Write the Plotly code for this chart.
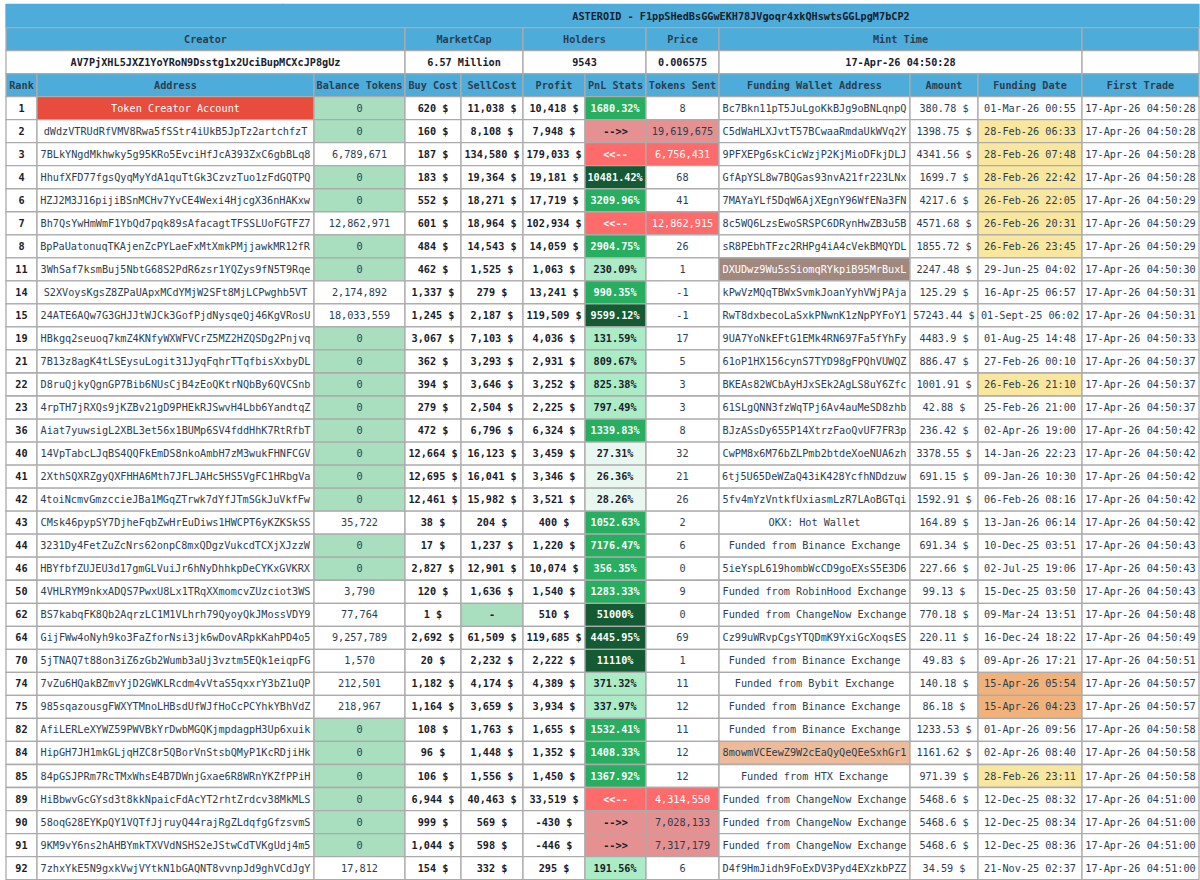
# 토큰 홀더 표: 병합 셀과 낮은 행 높이 때문에 go.Table 대신 가로 막대 한 트레이스로 칸을 그린다
import plotly.graph_objects as go

title_text = "ASTEROID - F1ppSHedBsGGwEKH78JVgoqr4xkQHswtsGGLpgM7bCP2"
info_labels = ["Creator", "MarketCap", "Holders", "Price", "Mint Time", ""]
info_values = ["AV7PjXHL5JXZ1YoYRoN9Dsstg1x2UciBupMCXcJP8gUz", "6.57 Million", "9543", "0.006575", "17-Apr-26 04:50:28", ""]
columns = ["Rank", "Address", "Balance Tokens", "Buy Cost", "SellCost", "Profit", "PnL Stats", "Tokens Sent",
           "Funding Wallet Address", "Amount", "Funding Date", "First Trade"]

ranks = [1, 2, 3, 4, 6, 7, 8, 11, 14, 15, 19, 21, 22, 23, 36, 40, 41, 42, 43, 44, 46, 50, 62, 64, 70, 74, 75, 82, 84, 85, 89, 90, 91, 92]
addresses = [
    "Token Creator Account", "dWdzVTRUdRfVMV8Rwa5fSStr4iUkB5JpTz2artchfzT", "7BLkYNgdMkhwky5g95KRo5EvciHfJcA393ZxC6gbBLq8",
    "HhufXFD77fgsQyqMyYdA1quTtGk3CzvzTuo1zFdGQTPQ", "HZJ2M3J16pijiBSnMCHv7YvCE4Wexi4HjcgX36nHAKxw", "Bh7QsYwHmWmF1YbQd7pqk89sAfacagtTFSSLUoFGTFZ7",
    "BpPaUatonuqTKAjenZcPYLaeFxMtXmkPMjjawkMR12fR", "3WhSaf7ksmBuj5NbtG68S2PdR6zsr1YQZys9fN5T9Rqe", "S2XVoysKgsZ8ZPaUApxMCdYMjW2SFt8MjLCPwghb5VT",
    "24ATE6AQw7G3GHJJtWJCk3GofPjdNysqeQj46KgVRosU", "HBkgq2seuoq7kmZ4KNfyWXWFVCrZ5MZ2HZQSDg2Pnjvq", "7B13z8agK4tLSEysuLogit31JyqFqhrTTqfbisXxbyDL",
    "D8ruQjkyQgnGP7Bib6NUsCjB4zEoQKtrNQbBy6QVCSnb", "4rpTH7jRXQs9jKZBv21gD9PHEkRJSwvH4Lbb6YandtqZ", "Aiat7yuwsigL2XBL3et56x1BUMp6SV4fddHhK7RtRfbT",
    "14VpTabcLJqBS4QQFkEmDS8nkoAmbH7zM3wukFHNFCGV", "2XthSQXRZgyQXFHHA6Mth7JFLJAHc5HS5VgFC1HRbgVa", "4toiNcmvGmzccieJBa1MGqZTrwk7dYfJTmSGkJuVkfFw",
    "CMsk46pypSY7DjheFqbZwHrEuDiws1HWCPT6yKZKSkSS", "3231Dy4FetZuZcNrs62onpC8mxQDgzVukcdTCXjXJzzW", "HBYfbfZUJEU3d17gmGLVuiJr6hNyDhhkpDeCYKxGVKRX",
    "4VHLRYM9nkxADQS7PwxU8Lx1TRqXXmomcvZUzciot3WS", "BS7kabqFK8Qb2AqrzLC1M1VLhrh79QyoyQkJMossVDY9", "GijFWw4oNyh9ko3FaZforNsi3jk6wDovARpkKahPD4o5",
    "5jTNAQ7t88on3iZ6zGb2Wumb3aUj3vztm5EQk1eiqpFG", "7vZu6HQakBZmvYjD2GWKLRcdm4vVtaS5qxxrY3bZ1uQP", "985sqazousgFWXYTMnoLHBsdUfWJfHoCcPCYhkYBhVdZ",
    "AfiLERLeXYWZ59PWVBkYrDwbMGQKjmpdagpH3Up6xuik", "HipGH7JH1mkGLjqHZC8r5QBorVnStsbQMyP1KcRDjiHk", "84pGSJPRm7RcTMxWhsE4B7DWnjGxae6R8WRnYKZfPPiH",
    "HiBbwvGcGYsd3t8kkNpaicFdAcYT2rhtZrdcv38MkMLS", "58oqG28EYKpQY1VQTfJjruyQ44rajRgZLdqfgGfzsvmS", "9KM9vY6ns2hAHBYmkTXVVdNSHS2eJStwCdTVKgUdj4m5",
    "7zhxYkE5N9gxkVwjVYtkN1bGAQNT8vvnpJd9ghVCdJgY",
]
balances = [0, 0, 6789671, 0, 0, 12862971, 0, 0, 2174892, 18033559, 0, 0, 0, 0, 0, 0, 0, 0, 35722, 0, 0, 3790, 77764, 9257789, 1570, 212501, 218967, 0, 0, 0, 0, 0, 0, 17812]
buy_costs = [620, 160, 187, 183, 552, 601, 484, 462, 1337, 1245, 3067, 362, 394, 279, 472, 12664, 12695, 12461, 38, 17, 2827, 120, 1, 2692, 20, 1182, 1164, 108, 96, 106, 6944, 999, 1044, 154]
sell_costs = [11038, 8108, 134580, 19364, 18271, 18964, 14543, 1525, 279, 2187, 7103, 3293, 3646, 2504, 6796, 16123, 16041, 15982, 204, 1237, 12901, 1636, None, 61509, 2232, 4174, 3659, 1763, 1448, 1556, 40463, 569, 598, 332]
profits = [10418, 7948, 179033, 19181, 17719, 102934, 14059, 1063, 13241, 119509, 4036, 2931, 3252, 2225, 6324, 3459, 3346, 3521, 400, 1220, 10074, 1540, 510, 119685, 2222, 4389, 3934, 1655, 1352, 1450, 33519, -430, -446, 295]
pnl_stats = ["1680.32%", "-->>", "<<--", "10481.42%", "3209.96%", "<<--", "2904.75%", "230.09%", "990.35%", "9599.12%", "131.59%", "809.67%", "825.38%", "797.49%", "1339.83%",
             "27.31%", "26.36%", "28.26%", "1052.63%", "7176.47%", "356.35%", "1283.33%", "51000%", "4445.95%", "11110%", "371.32%", "337.97%", "1532.41%", "1408.33%", "1367.92%",
             "<<--", "-->>", "-->>", "191.56%"]
tokens_sent = [8, 19619675, 6756431, 68, 41, 12862915, 26, 1, -1, -1, 17, 5, 3, 3, 8, 32, 21, 26, 2, 6, 0, 9, 0, 69, 1, 11, 12, 11, 12, 12, 4314550, 7028133, 7317179, 6]
wallets = [
    "Bc7Bkn11pT5JuLgoKkBJg9oBNLqnpQ", "C5dWaHLXJvtT57BCwaaRmdaUkWVq2Y", "9PFXEPg6skCicWzjP2KjMioDFkjDLJ", "GfApYSL8w7BQGas93nvA21fr223LNx",
    "7MAYaYLf5DqW6AjXEgnY96WfENa3FN", "8c5WQ6LzsEwoSRSPC6DRynHwZB3u5B", "sR8PEbhTFzc2RHPg4iA4cVekBMQYDL", "DXUDwz9Wu5sSiomqRYkpiB95MrBuxL",
    "kPwVzMQqTBWxSvmkJoanYyhVWjPAja", "RwT8dxbecoLaSxkPNwnK1zNpPYFoY1", "9UA7YoNkEFtG1EMk4RN697Fa5fYhFy", "61oP1HX156cynS7TYD98gFPQhVUWQZ",
    "BKEAs82WCbAyHJxSEk2AgLS8uY6Zfc", "61SLgQNN3fzWqTPj6Av4auMeSD8zhb", "BJzASsDy655P14XtrzFaoQvUF7FR3p", "CwPM8x6M76bZLPmb2btdeXoeNUA6zh",
    "6tj5U65DeWZaQ43iK428YcfhNDdzuw", "5fv4mYzVntkfUxiasmLzR7LAoBGTqi", "OKX: Hot Wallet", "Funded from Binance Exchange",
    "5ieYspL619hombWcCD9goEXsS5E3D6", "Funded from RobinHood Exchange", "Funded from ChangeNow Exchange", "Cz99uWRvpCgsYTQDmK9YxiGcXoqsES",
    "Funded from Binance Exchange", "Funded from Bybit Exchange", "Funded from Binance Exchange", "Funded from Binance Exchange",
    "8mowmVCEewZ9W2cEaQyQeQEeSxhGr1", "Funded from HTX Exchange", "Funded from ChangeNow Exchange", "Funded from ChangeNow Exchange",
    "Funded from ChangeNow Exchange", "D4f9HmJidh9FoExDV3Pyd4EXzkbPZZ",
]
amounts = [380.78, 1398.75, 4341.56, 1699.7, 4217.6, 4571.68, 1855.72, 2247.48, 125.29, 57243.44, 4483.9, 886.47, 1001.91, 42.88, 236.42, 3378.55, 691.15, 1592.91,
           164.89, 691.34, 227.66, 99.13, 770.18, 220.11, 49.83, 140.18, 86.18, 1233.53, 1161.62, 971.39, 5468.6, 5468.6, 5468.6, 34.59]
funding_dates = [
    "01-Mar-26 00:55", "28-Feb-26 06:33", "28-Feb-26 07:48", "28-Feb-26 22:42", "26-Feb-26 22:05", "26-Feb-26 20:31", "26-Feb-26 23:45", "29-Jun-25 04:02",
    "16-Apr-25 06:57", "01-Sept-25 06:02", "01-Aug-25 14:48", "27-Feb-26 00:10", "26-Feb-26 21:10", "25-Feb-26 21:00", "02-Apr-26 19:00", "14-Jan-26 22:23",
    "09-Jan-26 10:30", "06-Feb-26 08:16", "13-Jan-26 06:14", "10-Dec-25 03:51", "02-Jul-25 19:06", "15-Dec-25 03:50", "09-Mar-24 13:51", "16-Dec-24 18:22",
    "09-Apr-26 17:21", "15-Apr-26 05:54", "15-Apr-26 04:23", "01-Apr-26 09:56", "02-Apr-26 08:40", "28-Feb-26 23:11", "12-Dec-25 08:32", "12-Dec-25 08:34",
    "12-Dec-25 08:36", "21-Nov-25 02:37",
]
first_trades = [
    "04:50:28", "04:50:28", "04:50:28", "04:50:28", "04:50:29", "04:50:29", "04:50:29", "04:50:30", "04:50:31", "04:50:31", "04:50:33", "04:50:37",
    "04:50:37", "04:50:37", "04:50:42", "04:50:42", "04:50:42", "04:50:42", "04:50:42", "04:50:43", "04:50:43", "04:50:43", "04:50:48", "04:50:49",
    "04:50:51", "04:50:57", "04:50:57", "04:50:58", "04:50:58", "04:50:58", "04:51:00", "04:51:00", "04:51:00", "04:51:00",
]

# 색상
HEAD = "#4eacda"
LINE = "#ababab"
WHITE = "#ffffff"
TEXT = "#2c3e50"
BOLD = "#17202a"
RED = "#e74c3c"
ZERO = "#a9dfbf"
IN_RED = "#ff6b6b"
OUT_RED = "#e59191"
FONT = "DejaVu Sans Mono, monospace"
SIZE = 10.2
ROW_H = 23.03


def bold(s):
    return "<b>" + str(s) + "</b>"


def pnl_color(label, profit):
    if label == "<<--":
        return IN_RED
    if label == "-->>":
        return OUT_RED
    pct = float(label[:-1])
    if pct >= 9000 or profit >= 100000:
        return "#145a32"
    if pct >= 1000 or profit >= 10000:
        return "#27ae60"
    if pct >= 100:
        return "#abebc6"
    return "#e8f8f0"


def date_color(d):
    if d[:9] in ("26-Feb-26", "28-Feb-26"):
        return "#f9e79f"
    if d[:9] == "15-Apr-26":
        return "#f0b27a"
    return WHITE


def wallet_color(w):
    return {"DXUDwz9Wu5sSiomqRYkpiB95MrBuxL": "#a1887f", "8mowmVCEewZ9W2cEaQyQeQEeSxhGr1": "#edbb99"}.get(w, WHITE)


pnl_fill = [pnl_color(p, g) for p, g in zip(pnl_stats, profits)]
n = len(ranks)

values = [
    [bold(r) for r in ranks],
    addresses,
    [f"{b:,}" for b in balances],
    [bold(f"{v:,} $") for v in buy_costs],
    [bold("-" if v is None else f"{v:,} $") for v in sell_costs],
    [bold(f"{v:,} $") for v in profits],
    [bold(p) for p in pnl_stats],
    [f"{s:,}" for s in tokens_sent],
    wallets,
    [f"{a} $" for a in amounts],
    funding_dates,
    ["17-Apr-26 " + t for t in first_trades],
]
fills = [
    [WHITE] * n,
    [RED if a == "Token Creator Account" else WHITE for a in addresses],
    [ZERO if b == 0 else WHITE for b in balances],
    [WHITE] * n,
    [ZERO if v is None else WHITE for v in sell_costs],
    [WHITE] * n,
    pnl_fill,
    [f if p in ("<<--", "-->>") else WHITE for f, p in zip(pnl_fill, pnl_stats)],
    [wallet_color(w) for w in wallets],
    [WHITE] * n,
    [date_color(d) for d in funding_dates],
    [WHITE] * n,
]
font_colors = [
    [BOLD] * n,
    [WHITE if a == "Token Creator Account" else TEXT for a in addresses],
    [TEXT] * n,
    [BOLD] * n,
    [BOLD] * n,
    [BOLD] * n,
    [WHITE if f in ("#145a32", "#27ae60", IN_RED) else BOLD for f in pnl_fill],
    [WHITE if p == "<<--" else TEXT for p in pnl_stats],
    [WHITE if w.startswith("DXUD") else TEXT for w in wallets],
    [TEXT] * n,
    [TEXT] * n,
    [TEXT] * n,
]

# 칸 너비 (px)
main_widths = [31, 277, 91, 56, 62, 62, 61, 73, 191, 68, 104, 117]
info_widths = [399, 118, 123, 73, 363, 117]
title_widths = [277, 916]  # 제목은 표 가운데가 아니라 오른쪽으로 치우쳐 있음

# 막대 하나가 칸 하나
cell_y, cell_w, cell_base, cell_text, cell_fill, cell_color, cell_line = [], [], [], [], [], [], []


def add_row(row, widths, texts, fill_list, color_list, line=LINE):
    left = 0
    for w, t, f, c in zip(widths, texts, fill_list, color_list):
        cell_y.append(row)
        cell_w.append(w)
        cell_base.append(left)
        cell_text.append(t)
        cell_fill.append(f)
        cell_color.append(c)
        cell_line.append(line)
        left += w


add_row(0, title_widths, ["", bold(title_text)], [HEAD] * 2, [BOLD] * 2, line=HEAD)
add_row(1, info_widths, [bold(t) for t in info_labels], [HEAD] * 6, [TEXT] * 6)
add_row(2, info_widths, [bold(t) for t in info_values], [WHITE] * 6, [BOLD] * 6)
add_row(3, main_widths, [bold(c) for c in columns], [HEAD] * 12, [TEXT] * 12)
for i in range(n):
    add_row(4 + i, main_widths, [v[i] for v in values], [f[i] for f in fills], [c[i] for c in font_colors])

fig = go.Figure(go.Bar(
    orientation="h",
    y=cell_y,
    x=cell_w,
    base=cell_base,
    width=1,
    text=cell_text,
    textposition="inside",
    insidetextanchor="middle",
    textangle=0,
    constraintext="none",
    textfont=dict(family=FONT, size=SIZE, color=cell_color),
    marker=dict(color=cell_fill, line=dict(color=cell_line, width=1.3)),
    hoverinfo="skip",
))

top = -0.5 - 4.5 / ROW_H
fig.update_layout(
    width=1200, height=880, margin=dict(l=0, r=0, t=0, b=0),
    paper_bgcolor=WHITE, plot_bgcolor=WHITE, barmode="overlay", showlegend=False,
    xaxis=dict(visible=False, range=[-6, 1194]),
    yaxis=dict(visible=False, range=[top + 880 / ROW_H, top]),
)
fig.write_html("out.html", config=dict(displayModeBar=False), post_script="document.body.style.margin='0';")
